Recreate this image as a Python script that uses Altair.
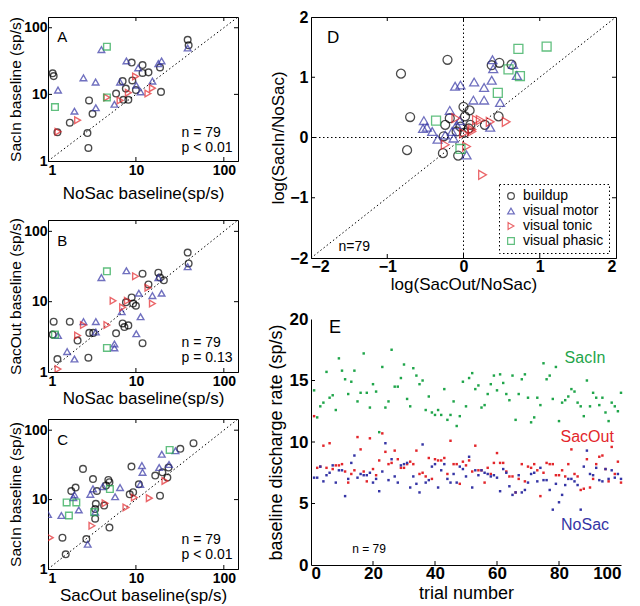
import altair as alt
import pandas as pd

FONT = "Liberation Sans"
CLASSES = ["buildup", "visual motor", "visual tonic", "visual phasic"]
COLORS = ["#000000", "#3535a5", "#e3262b", "#1fa54a"]
SHAPES = ["circle", "triangle-up", "triangle-right", "square"]

# ---------- Panel A: NoSac baseline (x) vs SacIn baseline (y) ----------
A_buildup = [(1.13, 20.7), (1.16, 18.8), (1.28, 2.7), (1.77, 3.76), (2.81, 2.63), (2.88, 1.57),
             (2.93, 8.1), (3.21, 5.1), (5.95, 10.3), (7.06, 15.8), (7.2, 8.3), (7.68, 12.2),
             (8.2, 8.3), (8.95, 30), (9.1, 16.2), (10.0, 11.6), (11.9, 27.5), (11.9, 21),
             (13.9, 21.4), (19.3, 10.9), (18.8, 25.4), (38.8, 66), (39.8, 54.5)]
A_vmotor = [(1.3, 11.6), (2.0, 5.6), (2.53, 17.7), (3.5, 6.3), (3.48, 15.3), (4.05, 47),
            (5.7, 7.1), (6.6, 15.3), (7.8, 31.8), (10.1, 13.7), (11.3, 10.9), (10.6, 25),
            (15.4, 15.8), (18.0, 29), (19.6, 31.8), (38.8, 49.7)]
A_vtonic = [(1.3, 2.75), (2.17, 4.1), (4.68, 9.0), (6.6, 8.1), (8.2, 10.6), (9.9, 18.6),
            (13.7, 10.3), (15.4, 12.4)]
A_vphasic = [(4.68, 52), (1.2, 6.45), (4.68, 9.0)]

# ---------- Panel B: NoSac baseline (x) vs SacOut baseline (y) ----------
B_buildup = [(1.16, 5.2), (1.13, 3.4), (1.28, 1.53), (1.77, 5.2), (2.17, 2.8), (2.88, 1.6),
             (2.95, 3.6), (3.27, 3.6), (5.95, 3.55), (7.06, 4.9), (7.4, 4.35), (8.2, 4.6),
             (7.7, 9.8), (8.95, 11.5), (9.3, 9.4), (10.0, 8.75), (11.9, 25), (11.9, 2.57),
             (13.9, 17.6), (18.0, 25.8), (18.8, 22), (20.8, 20.1), (38.8, 50), (39.8, 35)]
B_vmotor = [(1.3, 3.3), (1.65, 1.95), (2.0, 1.53), (2.53, 5.2), (3.5, 5.2), (3.5, 3.7),
            (4.05, 22), (5.7, 2.2), (5.7, 2.5), (7.8, 27.5), (6.9, 7.2), (10.1, 3.5),
            (11.3, 6.1), (10.8, 13.2), (15.4, 12.2), (19.6, 13.2), (18.0, 22), (38.8, 31.4)]
B_vtonic = [(1.3, 1.1), (2.17, 3.3), (2.53, 4.65), (4.68, 4.65), (5.5, 10.3), (7.06, 8.3),
            (8.0, 10.3), (9.9, 23), (13.7, 15.8), (15.4, 9.4)]
B_vphasic = [(1.2, 3.4), (4.68, 27), (4.68, 2.2)]

# ---------- Panel C: SacOut baseline (x) vs SacIn baseline (y) ----------
C_buildup = [(1.46, 2.83), (1.59, 1.63), (1.84, 13.3), (2.06, 14.9), (2.5, 27.7), (2.73, 2.7),
             (3.25, 19.8), (3.44, 7.3), (3.6, 13.3), (3.44, 5.3), (3.5, 8.7), (4.35, 8.2),
             (4.57, 15.9), (4.86, 19.2), (5.0, 17.8), (5.0, 3.95), (8.5, 11.9), (8.9, 29.9),
             (9.3, 12.8), (10.8, 16.6), (16.6, 22.2), (18.8, 11.4), (20.0, 24.7), (22.8, 20.8),
             (23.5, 29), (32.0, 54), (45.2, 65)]
C_vmotor = [(1.0, 6.1), (1.42, 5.9), (2.0, 11.7), (1.94, 10.7), (2.24, 7.1), (2.83, 2.27),
            (3.03, 11.9), (3.25, 14.3), (3.44, 6.6), (4.2, 15.4), (5.8, 11.0), (6.6, 14.9),
            (11.7, 30.9), (11.9, 24.7), (11.2, 16.6), (18.4, 29), (19.7, 45), (23.8, 32),
            (28.2, 50.5)]
C_vtonic = [(1.06, 2.83), (3.16, 4.2), (4.46, 8.85), (7.7, 7.7), (9.6, 10.7), (14.2, 10.5),
            (21.4, 18.6)]
C_vphasic = [(1.63, 9.1), (2.1, 9.1), (1.73, 5.9), (3.35, 6.6), (5.06, 14.2), (24.2, 52)]

# ---------- Panel D: log(SacOut/NoSac) (x) vs log(SacIn/NoSac) (y) ----------
D_buildup = [(-0.82, 1.06), (-0.21, 1.29), (-0.7, 0.34), (-0.74, -0.21), (-0.27, -0.26),
             (-0.26, 0.02), (-0.18, 0.32), (-0.24, 0.21), (-0.09, 0.1), (-0.07, -0.3),
             (0.0, 0.51), (0.08, 0.45), (0.02, 0.35), (0.09, 0.21), (0.01, 0.08),
             (0.28, 0.21), (0.46, 0.35), (0.37, 1.2), (0.47, 1.24), (0.63, 1.21),
             (-0.04, 0.18), (0.07, 0.15)]
D_vmotor = [(-0.52, 0.28), (-0.48, 0.17), (-0.53, 0.15), (-0.41, 0.1), (-0.34, -0.03),
            (-0.24, 0.04), (-0.18, 0.45), (-0.15, 0.1), (-0.13, -0.01), (-0.11, 0.85),
            (-0.04, 0.87), (0.04, -0.29), (-0.05, 0.28), (0.14, 0.92), (0.13, 0.62),
            (0.27, 0.83), (0.27, 0.62), (0.37, 0.95), (0.38, 1.29), (0.39, 1.14),
            (0.35, 0.17), (0.48, 0.58), (0.65, 1.21), (0.7, 1.03), (-0.09, 0.21)]
D_vtonic = [(-0.24, -0.12), (-0.1, 0.32), (0.04, -0.15), (0.0, 0.07), (0.11, 0.1),
            (0.17, 0.29), (0.22, 0.29), (0.35, 0.26), (0.56, 0.26), (0.25, -0.62), (0.11, 0.13)]
D_vphasic = [(-0.36, 0.28), (-0.04, -0.19), (0.45, 0.74), (0.59, 1.13), (0.72, 1.47),
             (0.74, 1.02), (1.09, 1.51)]

# ---------- Panel E: baseline discharge rate per trial ----------
E_trials = list(range(1, 101))
E_sacin = [14.2, 12.0, 12.9, 13.2, 15.7, 13.6, 13.8, 12.6, 16.8, 15.8,
           15.1, 13.9, 14.9, 15.8, 13.3, 14.0, 17.2, 14.0, 12.8, 14.7,
           14.1, 10.8, 16.1, 12.8, 13.3, 17.5, 14.5, 14.5, 15.2, 16.3,
           13.5, 12.9, 16.0, 15.4, 14.7, 15.0, 12.6, 13.7, 12.4, 12.2,
           12.6, 12.2, 14.3, 11.8, 12.2, 13.3, 11.3, 12.1, 14.9, 12.9,
           15.2, 15.6, 14.3, 14.6, 12.8, 13.0, 13.9, 14.7, 15.4, 14.2,
           15.5, 14.8, 13.9, 13.4, 15.4, 11.8, 13.9, 15.1, 15.5, 13.6,
           11.6, 12.0, 13.6, 13.0, 16.4, 15.1, 15.4, 13.5, 16.1, 11.7,
           13.2, 13.4, 13.7, 14.3, 14.1, 13.2, 12.9, 12.1, 15.0, 12.9,
           14.0, 13.6, 13.0, 13.6, 12.4, 11.7, 13.2, 12.9, 12.5, 14.0]
E_sacout = [12.1, 7.9, 8.0, 9.7, 7.9, 9.9, 7.8, 8.1, 8.1, 8.2,
            7.6, 6.7, 7.4, 7.7, 10.4, 9.4, 7.6, 6.8, 10.3, 7.8,
            7.3, 8.5, 10.7, 9.2, 8.2, 8.3, 9.3, 8.6, 7.9, 7.9,
            8.2, 8.4, 8.2, 9.3, 7.4, 7.5, 7.2, 8.7, 7.0, 8.6,
            8.5, 8.5, 8.7, 7.4, 10.1, 8.2, 8.2, 6.6, 8.4, 8.1,
            8.5, 7.6, 9.7, 7.7, 7.7, 6.7, 7.9, 7.4, 8.3, 9.1,
            8.3, 8.3, 7.6, 7.2, 7.2, 5.9, 7.0, 8.2, 6.8, 8.0,
            7.9, 8.2, 7.7, 5.6, 7.5, 8.3, 8.2, 8.2, 7.3, 7.3,
            7.7, 7.2, 8.2, 9.4, 7.4, 7.2, 6.1, 6.2, 8.6, 6.3,
            7.0, 8.2, 8.8, 8.9, 7.8, 6.8, 9.6, 7.4, 8.4, 6.7]
E_nosac = [7.1, 7.1, 8.0, 6.8, 7.3, 7.5, 8.1, 6.7, 7.7, 7.7,
           5.6, 7.0, 8.3, 8.9, 7.1, 7.4, 7.3, 7.3, 7.5, 6.7,
           7.0, 6.0, 7.6, 9.9, 6.9, 8.6, 7.2, 6.7, 8.1, 8.2,
           8.3, 6.3, 7.2, 6.6, 5.9, 9.8, 6.7, 6.9, 8.0, 8.2,
           6.3, 7.7, 8.2, 7.0, 6.7, 7.4, 6.7, 8.0, 7.8, 7.2,
           8.8, 6.3, 7.7, 7.3, 7.7, 7.5, 7.4, 7.2, 7.3, 7.1,
           6.0, 7.8, 7.5, 6.4, 5.7, 5.9, 7.3, 5.9, 6.1, 6.7,
           7.4, 7.5, 6.8, 7.9, 6.9, 6.9, 6.1, 4.5, 6.6, 5.1,
           5.7, 6.5, 7.0, 7.0, 6.8, 6.5, 4.5, 8.0, 9.3, 7.4,
           7.3, 7.9, 6.9, 6.8, 7.8, 7.0, 7.7, 7.1, 7.4, 7.0]

LOG_DOMAIN = [1, 145]
LOG_TICKS = [1, 10, 100]
D_TICKS = [-2, -1, 0, 1, 2]
E_XTICKS = [0, 20, 40, 60, 80, 100]
E_YTICKS = [0, 5, 10, 15, 20]
TL = 4  # inward tick length


def inward_ticks(xvals, yvals, xs, ys, W, H, sides=("b", "t", "l", "r")):
    out = []
    xdf = pd.DataFrame({"x": xvals})
    ydf = pd.DataFrame({"y": yvals})
    if "b" in sides:
        out.append(alt.Chart(xdf).mark_rule(color="black", strokeWidth=1).encode(
            x=alt.X("x:Q", scale=xs), y=alt.value(H), y2=alt.value(H - TL)))
    if "t" in sides:
        out.append(alt.Chart(xdf).mark_rule(color="black", strokeWidth=1).encode(
            x=alt.X("x:Q", scale=xs), y=alt.value(0), y2=alt.value(TL)))
    if "l" in sides:
        out.append(alt.Chart(ydf).mark_rule(color="black", strokeWidth=1).encode(
            y=alt.Y("y:Q", scale=ys), x=alt.value(0), x2=alt.value(TL)))
    if "r" in sides:
        out.append(alt.Chart(ydf).mark_rule(color="black", strokeWidth=1).encode(
            y=alt.Y("y:Q", scale=ys), x=alt.value(W), x2=alt.value(W - TL)))
    return out


def class_df(groups):
    rows = []
    for cls, pts in zip(CLASSES, groups):
        for x, y in pts:
            rows.append({"x": x, "y": y, "cls": cls})
    return pd.DataFrame(rows)


def log_panel(groups, letter, xtitle, ytitle, pstr, xtitle_pad, H):
    W = 190
    xs = alt.Scale(type="log", domain=LOG_DOMAIN, nice=False)
    ys = alt.Scale(type="log", domain=LOG_DOMAIN, nice=False)
    xax = alt.Axis(values=LOG_TICKS, format="d", title=xtitle, ticks=False,
                   labelFontSize=14, titleFontSize=17, labelPadding=2, titlePadding=xtitle_pad)
    yax = alt.Axis(values=LOG_TICKS, format="d", title=ytitle, ticks=False,
                   labelFontSize=14, titleFontSize=15.5, labelPadding=1, titlePadding=0)
    diag = alt.Chart(pd.DataFrame({"x": LOG_DOMAIN, "y": LOG_DOMAIN})).mark_line(
        color="black", strokeDash=[1.5, 2.5], strokeWidth=1, clip=True
    ).encode(x=alt.X("x:Q", scale=xs, axis=xax), y=alt.Y("y:Q", scale=ys, axis=yax))
    layers = [diag]
    for cls, col, shp, pts in zip(CLASSES, COLORS, SHAPES, groups):
        df = pd.DataFrame(pts, columns=["x", "y"])
        layers.append(alt.Chart(df).mark_point(
            shape=shp, color=col, filled=False, size=44, strokeWidth=1.4, clip=True
        ).encode(x=alt.X("x:Q", scale=xs), y=alt.Y("y:Q", scale=ys)))
    lab = alt.Chart(pd.DataFrame({"x": [1.27], "y": [72], "t": [letter]})).mark_text(
        align="left", baseline="middle", fontSize=15, font=FONT
    ).encode(x=alt.X("x:Q", scale=xs), y=alt.Y("y:Q", scale=ys), text="t:N")
    stats = alt.Chart(pd.DataFrame({"x": [33, 33], "y": [2.6, 1.58], "t": ["n = 79", pstr]})).mark_text(
        align="left", baseline="middle", fontSize=14, font=FONT
    ).encode(x=alt.X("x:Q", scale=xs), y=alt.Y("y:Q", scale=ys), text="t:N")
    layers += [lab, stats]
    layers += inward_ticks([10, 100], [10, 100], xs, ys, W, H)
    return alt.layer(*layers).properties(width=W, height=H)


panelA = log_panel([A_buildup, A_vmotor, A_vtonic, A_vphasic], "A",
                   "NoSac baseline(sp/s)", "SacIn baseline (sp/s)", "p < 0.01", 8, 144)
panelB = log_panel([B_buildup, B_vmotor, B_vtonic, B_vphasic], "B",
                   "NoSac baseline(sp/s)", "SacOut baseline (sp/s)", "p = 0.13", 2, 152)
panelC = log_panel([C_buildup, C_vmotor, C_vtonic, C_vphasic], "C",
                   "SacOut baseline(sp/s)", "SacIn baseline (sp/s)", "p < 0.01", 2, 150)

# ---------- Panel D ----------
DW, DH = 305, 241
dxs = alt.Scale(domain=[-2, 2], nice=False)
dys = alt.Scale(domain=[-2, 2], nice=False)
dxax = alt.Axis(values=D_TICKS, format="d", title="log(SacOut/NoSac)", ticks=False,
                labelFontSize=16, titleFontSize=17, labelPadding=0, titlePadding=2)
dyax = alt.Axis(values=D_TICKS, format="d", title="log(SacIn/NoSac)", ticks=False,
                labelFontSize=16, titleFontSize=17, labelPadding=3, titlePadding=2)
d_guides = pd.DataFrame({"x": [-2, 2, 0, 0, -2, 2], "y": [-2, 2, -2, 2, 0, 0], "g": [0, 0, 1, 1, 2, 2]})
d_lines = alt.Chart(d_guides).mark_line(color="black", strokeDash=[1.5, 2.5], strokeWidth=1).encode(
    x=alt.X("x:Q", scale=dxs, axis=dxax), y=alt.Y("y:Q", scale=dys, axis=dyax), detail="g:N")
d_pts = alt.Chart(class_df([D_buildup, D_vmotor, D_vtonic, D_vphasic])).mark_point(
    filled=False, size=80, strokeWidth=1.3
).encode(
    x=alt.X("x:Q", scale=dxs), y=alt.Y("y:Q", scale=dys),
    color=alt.Color("cls:N", scale=alt.Scale(domain=CLASSES, range=COLORS),
                    legend=alt.Legend(title=None, orient="none", legendX=DW - 117, legendY=DH - 74,
                                      padding=5, labelFontSize=14, labelFont=FONT, symbolSize=45,
                                      symbolStrokeWidth=1.2, rowPadding=1, labelOffset=5,
                                      strokeColor="black")),
    shape=alt.Shape("cls:N", scale=alt.Scale(domain=CLASSES, range=SHAPES), legend=None),
)
d_text = alt.Chart(pd.DataFrame({"x": [-1.79, -1.64], "y": [1.65, -1.82], "t": ["D", "n=79"],
                                 "fs": [17, 14]})).mark_text(
    align="left", baseline="middle", font=FONT
).encode(x=alt.X("x:Q", scale=dxs), y=alt.Y("y:Q", scale=dys), text="t:N",
         size=alt.Size("fs:Q", scale=None, legend=None))
panelD = alt.layer(d_lines, d_pts, d_text,
                   *inward_ticks([-1, 0, 1], [-1, 0, 1], dxs, dys, DW, DH)).properties(width=DW, height=DH)

# ---------- Panel E ----------
EW, EH = 310, 246
exs = alt.Scale(domain=[0, 100], nice=False)
eys = alt.Scale(domain=[0, 20], nice=False)
exax = alt.Axis(values=E_XTICKS, title="trial number", ticks=False,
                labelFontSize=17, titleFontSize=18, labelPadding=0, titlePadding=3)
eyax = alt.Axis(values=E_YTICKS, title="baseline discharge rate (sp/s)", ticks=False,
                labelFontSize=17, titleFontSize=18, labelPadding=3, titlePadding=4)
e_layers = []
for i, (vals, col) in enumerate([(E_sacin, COLORS[3]), (E_sacout, COLORS[2]), (E_nosac, COLORS[1])]):
    df = pd.DataFrame({"x": E_trials, "y": vals})
    if i == 0:
        enc = dict(x=alt.X("x:Q", scale=exs, axis=exax), y=alt.Y("y:Q", scale=eys, axis=eyax))
    else:
        enc = dict(x=alt.X("x:Q", scale=exs), y=alt.Y("y:Q", scale=eys))
    e_layers.append(alt.Chart(df).mark_square(size=6, color=col, opacity=1).encode(**enc))
e_labels = pd.DataFrame({"x": [88.4, 89.1, 88.4, 18.7, 5.8],
                         "y": [16.85, 10.4, 3.26, 1.34, 19.3],
                         "t": ["SacIn", "SacOut", "NoSac", "n = 79", "E"],
                         "c": [COLORS[3], COLORS[2], COLORS[1], "#000000", "#000000"],
                         "fs": [16, 16, 16, 12, 18]})
e_text_c = alt.Chart(e_labels.iloc[:4]).mark_text(align="center", baseline="middle", font=FONT).encode(
    x=alt.X("x:Q", scale=exs), y=alt.Y("y:Q", scale=eys), text="t:N",
    color=alt.Color("c:N", scale=None), size=alt.Size("fs:Q", scale=None, legend=None))
e_text_l = alt.Chart(e_labels.iloc[4:]).mark_text(align="left", baseline="middle", font=FONT).encode(
    x=alt.X("x:Q", scale=exs), y=alt.Y("y:Q", scale=eys), text="t:N",
    color=alt.Color("c:N", scale=None), size=alt.Size("fs:Q", scale=None, legend=None))
e_axes_lines = inward_ticks(E_XTICKS[1:-1], E_YTICKS[1:-1], exs, eys, EW, EH, sides=("b", "l"))
panelE = alt.layer(*e_layers, e_text_c, e_text_l, *e_axes_lines).properties(
    width=EW, height=EH, view=alt.ViewBackground(stroke="transparent"))

left = alt.vconcat(panelA, alt.vconcat(panelB, panelC, spacing=47, bounds="flush"),
                   spacing=59, bounds="flush")
right = alt.vconcat(panelD, panelE, spacing=61, bounds="flush").resolve_scale(
    color="independent", shape="independent", size="independent")
chart = alt.concat(left, right, columns=2, spacing=27, align="none").resolve_scale(
    color="independent", shape="independent", size="independent"
).properties(padding={"left": 0, "top": 0, "right": 0, "bottom": 0}).configure(
    font=FONT
).configure_axis(
    labelFont=FONT, titleFont=FONT, labelFontWeight="bold", titleFontWeight="normal",
    labelColor="black", titleColor="black", domainColor="black", domainWidth=1, grid=False
).configure_view(stroke="black", strokeWidth=1).configure_legend(
    strokeDash=[1.5, 2.5], strokeColor="black"
)

chart.save("out.html", embed_options={"renderer": "svg", "actions": False})
